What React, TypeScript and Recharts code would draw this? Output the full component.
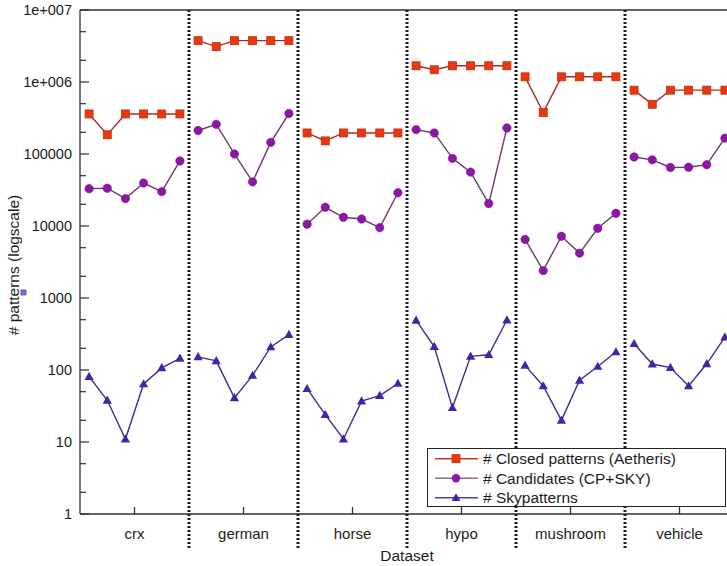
import { LineChart, Line, XAxis, YAxis, ReferenceLine, Legend } from 'recharts'

const datasets = ['crx', 'german', 'horse', 'hypo', 'mushroom', 'vehicle']

// six runs per dataset
const closedPatterns = [
  [360000, 185000, 360000, 360000, 360000, 360000],
  [3750000, 3100000, 3750000, 3750000, 3750000, 3750000],
  [196000, 152000, 196000, 196000, 196000, 196000],
  [1680000, 1480000, 1680000, 1680000, 1680000, 1680000],
  [1180000, 377000, 1180000, 1180000, 1180000, 1180000],
  [770000, 490000, 770000, 770000, 770000, 770000],
]

const candidates = [
  [33000, 33500, 24000, 39500, 30000, 80000],
  [212000, 258000, 100000, 41000, 145000, 365000],
  [10600, 18200, 13200, 12500, 9500, 29000],
  [218000, 196000, 87000, 56000, 20500, 230000],
  [6500, 2400, 7200, 4200, 9300, 15000],
  [91000, 83000, 65000, 65500, 71000, 166000],
]

const skypatterns = [
  [81, 38, 11, 64, 107, 145],
  [152, 134, 41, 84, 209, 310],
  [55, 24, 11, 37, 44, 65],
  [490, 211, 30, 155, 163, 495],
  [116, 60, 20, 72, 112, 178],
  [232, 121, 108, 60, 122, 287],
]

const yMajor = [1, 10, 100, 1000, 10000, 100000, 1000000, 10000000]
const yMajorLabels = ['1', '10', '100', '1000', '10000', '100000', '1e+006', '1e+007']

const RUNS = 6

// one row per run, plus an empty row at each dataset boundary so the lines break
const rows: any[] = []
datasets.forEach((_, g) => {
  if (g > 0) rows.push({ x: g * RUNS, closed: null, cand: null, sky: null })
  for (let i = 0; i < RUNS; i++) {
    rows.push({
      x: g * RUNS + i + 0.5,
      closed: closedPatterns[g][i],
      cand: candidates[g][i],
      sky: skypatterns[g][i],
    })
  }
})

const runTicks = rows.filter(r => r.closed != null).map(r => r.x)
const groupTicks = datasets.map((_, g) => g * RUNS + RUNS / 2)
const dividers = datasets.slice(1).map((_, g) => (g + 1) * RUNS)
const yTicks: number[] = []
yMajor.forEach((v, k) => {
  yTicks.push(v)
  if (k < yMajor.length - 1) yTicks.push(v * 2, v * 5)
})

const FONT = '"Liberation Sans", Arial, sans-serif'
const INK = '#1c1c1c'
const AXIS = '#2e2e3a'

const colors = {
  closedLine: '#b02a22',
  closedFill: '#e8380f',
  closedEdge: '#c42c0a',
  candLine: '#6a3a66',
  candFill: '#8c17a6',
  skyLine: '#3a2f8e',
  skyFill: '#4722a5',
}

const Square = (p: any) => {
  if (p.cy == null || p.cx == null) return null
  return <rect x={p.cx - 4} y={p.cy - 4} width={8} height={8} fill={colors.closedFill} stroke={colors.closedEdge} strokeWidth={0.8} />
}

const Circle = (p: any) => {
  if (p.cy == null || p.cx == null) return null
  return <circle cx={p.cx} cy={p.cy} r={4.2} fill={colors.candFill} stroke="#7a1494" strokeWidth={0.6} />
}

const Triangle = (p: any) => {
  if (p.cy == null || p.cx == null) return null
  const { cx, cy } = p
  return <path d={`M${cx},${cy - 4.8} L${cx + 4.6},${cy + 3.4} L${cx - 4.6},${cy + 3.4} Z`} fill={colors.skyFill} />
}

const YTick = ({ x, y, payload }: any) => {
  const lg = Math.log10(payload.value)
  const k = Math.round(lg)
  const major = Math.abs(lg - k) < 1e-6
  return (
    <g>
      <line x1={x + 8} x2={x + 8 + (major ? 9 : 6)} y1={y} y2={y} stroke={AXIS} strokeWidth={1.2} />
      {major && (
        <text x={x} y={y} dy="0.36em" textAnchor="end" fontSize={14.5} fontFamily={FONT} fill={INK}>
          {yMajorLabels[k]}
        </text>
      )}
    </g>
  )
}

const YTitle = ({ viewBox }: any) => {
  const cx = viewBox.x + 19
  const cy = viewBox.y + viewBox.height / 2 + 3
  return (
    <g>
      <text x={cx} y={cy} transform={`rotate(-90 ${cx} ${cy})`} textAnchor="middle" fontSize={15.5} fontFamily={FONT} fill={INK}>
        # patterns (logscale)
      </text>
      <rect x={21} y={290} width={5} height={5} fill="#8a6bc8" stroke="#5a45a0" strokeWidth={0.8} />
    </g>
  )
}

const XTitle = ({ viewBox }: any) => (
  <text x={viewBox.x + viewBox.width / 2} y={viewBox.y + 47} textAnchor="middle" fontSize={15.5} fontFamily={FONT} fill={INK}>
    Dataset
  </text>
)

// dotted separator between datasets, running on past the bottom axis
const Divider = (p: any) => {
  const top = Math.min(p.y1, p.y2)
  const bottom = Math.max(p.y1, p.y2) + 35
  return <line x1={p.x1} x2={p.x2} y1={top} y2={bottom} stroke="#1a1a22" strokeWidth={3} strokeDasharray="2 2" />
}

const legendItems = [
  { label: '# Closed patterns (Aetheris)', line: '#d03428', marker: 'square' },
  { label: '# Candidates (CP+SKY)', line: '#8e6a8e', marker: 'circle' },
  { label: '# Skypatterns', line: '#4b3fa8', marker: 'triangle' },
]

const LegendBox = () => (
  <svg width={299} height={59} style={{ display: 'block' }}>
    <rect x={0.5} y={0.5} width={298} height={58} fill="#fff" stroke="#222" strokeWidth={1} />
    {legendItems.map((it, i) => {
      const cy = 10.7 + i * 19.5
      return (
        <g key={it.label}>
          <line x1={8} x2={51} y1={cy} y2={cy} stroke={it.line} strokeWidth={1.4} />
          {it.marker === 'square' && <rect x={25} y={cy - 4} width={8} height={8} fill={colors.closedFill} stroke={colors.closedEdge} strokeWidth={0.8} />}
          {it.marker === 'circle' && <circle cx={29} cy={cy} r={4.2} fill={colors.candFill} />}
          {it.marker === 'triangle' && <path d={`M29,${cy - 4.5} L33.5,${cy + 3.2} L24.5,${cy + 3.2} Z`} fill={colors.skyFill} />}
          <text x={56} y={cy} dy="0.36em" fontSize={15.5} fontFamily={FONT} fill={INK}>{it.label}</text>
        </g>
      )
    })}
  </svg>
)

export default function App() {
  return (
    <div style={{ position: 'absolute', left: 0, top: 0, width: 727, height: 566, overflow: 'hidden', background: '#fff' }}>
      <LineChart width={741} height={566} data={rows} margin={{ top: 9, right: 6, left: 0, bottom: 0 }}>
        <XAxis
          dataKey="x"
          type="number"
          domain={[0, 36]}
          ticks={groupTicks}
          interval={0}
          tickFormatter={(v: number) => datasets[Math.floor(v / RUNS)]}
          tickSize={-7}
          tickMargin={21}
          height={52}
          stroke={AXIS}
          strokeWidth={1.3}
          tick={{ fontSize: 15, fontFamily: FONT, fill: INK }}
          label={<XTitle />}
        />
        <XAxis
          xAxisId="top"
          orientation="top"
          dataKey="x"
          type="number"
          domain={[0, 36]}
          ticks={runTicks}
          interval={0}
          tickSize={-7}
          tick={false}
          height={1}
          stroke={AXIS}
          strokeWidth={1.3}
        />
        <YAxis
          scale="log"
          domain={[1, 10000000]}
          allowDataOverflow
          ticks={yTicks}
          interval={0}
          tickSize={0}
          tickMargin={8}
          tickLine={false}
          tick={<YTick />}
          width={80}
          stroke={AXIS}
          strokeWidth={1.3}
          label={<YTitle />}
        />
        <YAxis
          yAxisId="right"
          orientation="right"
          scale="log"
          domain={[1, 10000000]}
          allowDataOverflow
          ticks={yMajor}
          interval={0}
          tickSize={-9}
          tick={false}
          width={1}
          stroke={AXIS}
          strokeWidth={1.3}
        />
        {dividers.map(d => (
          <ReferenceLine key={d} x={d} shape={<Divider />} />
        ))}
        <Line dataKey="closed" type="linear" stroke={colors.closedLine} strokeWidth={1.4} dot={<Square />} activeDot={false} isAnimationActive={false} />
        <Line dataKey="cand" type="linear" stroke={colors.candLine} strokeWidth={1.4} dot={<Circle />} activeDot={false} isAnimationActive={false} />
        <Line dataKey="sky" type="linear" stroke={colors.skyLine} strokeWidth={1.4} dot={<Triangle />} activeDot={false} isAnimationActive={false} />
        <Legend
          layout="vertical"
          align="center"
          verticalAlign="middle"
          content={() => <LegendBox />}
          wrapperStyle={{ left: 427, top: 448, width: 299, height: 59 }}
        />
      </LineChart>
    </div>
  )
}
